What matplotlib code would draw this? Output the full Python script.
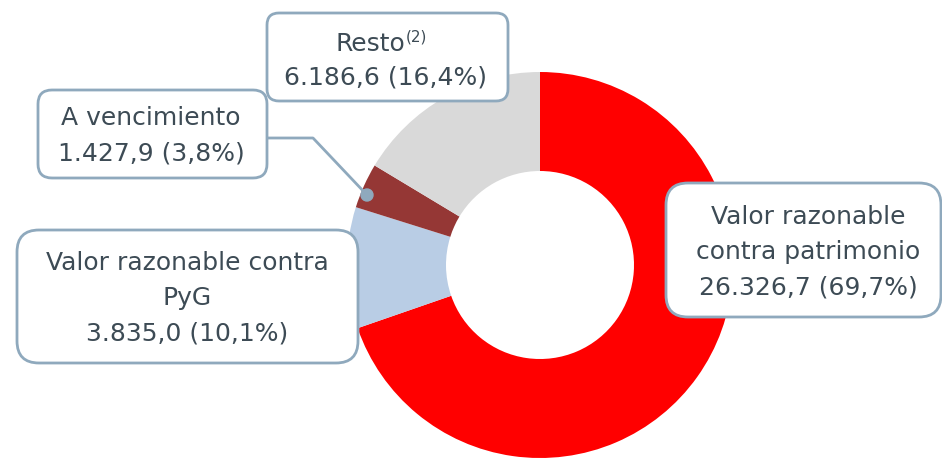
import matplotlib
matplotlib.use("Agg")
import matplotlib.pyplot as plt
from matplotlib.patches import FancyBboxPatch, Circle

# Datos (millones) en el orden del anillo, en sentido horario desde arriba
categorias = ["Valor razonable contra patrimonio", "Valor razonable contra PyG",
              "A vencimiento", "Resto"]
valores = [26326.7, 3835.0, 1427.9, 6186.6]
porcentajes = ["69,7%", "10,1%", "3,8%", "16,4%"]
valores_txt = ["26.326,7", "3.835,0", "1.427,9", "6.186,6"]
colores = ["#FF0000", "#B9CDE5", "#953735", "#D9D9D9"]

W, H = 942, 458
texto_col = "#3d4b55"
borde_col = "#8fa9bd"
fuente = "DejaVu Sans"
tam = 18

fig = plt.figure(figsize=(W / 100, H / 100), dpi=100)
ax = fig.add_axes([0, 0, 1, 1])

# Anillo (coordenadas en píxeles, y hacia arriba)
cx, cy, R = 540, H - 265, 193
ax.pie(valores, colors=colores, startangle=90, counterclock=False,
       center=(cx, cy), radius=R, wedgeprops=dict(width=R - 94, linewidth=0))

ax.set_xlim(0, W)
ax.set_ylim(0, H)
ax.set_aspect("equal")
ax.axis("off")


def caja(x0, y0, x1, y1, r):
    # y0/y1 en píxeles desde arriba
    p = FancyBboxPatch((x0 + r, H - y1 + r), (x1 - x0) - 2 * r, (y1 - y0) - 2 * r,
                       boxstyle=f"round,pad={r}", facecolor="white",
                       edgecolor=borde_col, linewidth=2, zorder=3)
    ax.add_patch(p)


def lineas(x, ys, textos, size=tam):
    for y, t in zip(ys, textos):
        ax.text(x, H - y, t, ha="center", va="center", fontsize=size,
                color=texto_col, family=fuente, zorder=4)


# Conector "A vencimiento"
ax.plot([262, 313, 367], [H - 138, H - 138, H - 195], color=borde_col, lw=2, zorder=2)
ax.add_patch(Circle((367, H - 195), 6, color=borde_col, zorder=2))

# Resto
caja(267, 13, 508, 101, 12)
ax.text(405, H - 44, "Resto", ha="right", va="center", fontsize=tam,
        color=texto_col, family=fuente, zorder=4)
ax.text(406, H - 37, "(2)", ha="left", va="center", fontsize=11,
        color=texto_col, family=fuente, zorder=4)
lineas(386, [78], [f"{valores_txt[3]} ({porcentajes[3]})"])

# A vencimiento
caja(38, 90, 267, 178, 14)
lineas(151, [118, 153], [categorias[2], f"{valores_txt[2]} ({porcentajes[2]})"])

# Valor razonable contra PyG
caja(17, 230, 358, 363, 22)
lineas(187, [263, 298, 333], ["Valor razonable contra", "PyG",
                              f"{valores_txt[1]} ({porcentajes[1]})"])

# Valor razonable contra patrimonio
caja(666, 183, 941, 317, 22)
lineas(808, [217, 252, 288], ["Valor razonable", "contra patrimonio",
                              f"{valores_txt[0]} ({porcentajes[0]})"])

fig.savefig("out.png", dpi=100, facecolor="white")
